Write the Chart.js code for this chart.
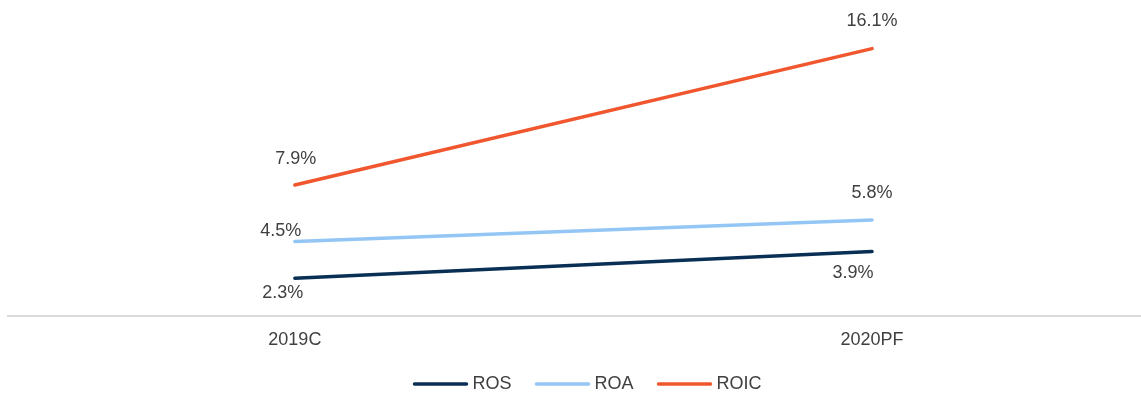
<!DOCTYPE html>
<html>
<head>
<meta charset="utf-8">
<script src="https://cdn.jsdelivr.net/npm/chart.js@4.4.1/dist/chart.umd.min.js"></script>
<style>
  html, body { margin: 0; padding: 0; background: #fff; }
  #wrap { width: 1141px; height: 394px; }
</style>
</head>
<body>
<div id="wrap"><canvas id="returns"></canvas></div>
<script>
// periods and return ratios (%)
const periods = ["2019C", "2020PF"];
const ros = [2.3, 3.9];
const roa = [4.5, 5.8];
const roic = [7.9, 16.1];

// label offsets per point [dx, dy] relative to the point
const labelShift = {
  ROS: [[-12, 15], [-19, 22]],
  ROA: [[-14, -11], [0, -27]],
  ROIC: [[1, -26], [0, -28]]
};

const textColor = "#404040";
const fontFamily = "'Liberation Sans', Arial, sans-serif";
const fontSize = 18;

function toPoints(values) {
  return values.map((v, i) => ({ x: i, y: v }));
}

// draws the % value next to every point
const valueLabels = {
  id: "valueLabels",
  afterDatasetsDraw(chart) {
    const ctx = chart.ctx;
    ctx.save();
    ctx.font = fontSize + "px " + fontFamily;
    ctx.fillStyle = textColor;
    ctx.textAlign = "center";
    ctx.textBaseline = "middle";
    chart.data.datasets.forEach((ds, di) => {
      const meta = chart.getDatasetMeta(di);
      meta.data.forEach((pt, i) => {
        const shift = labelShift[ds.label][i];
        ctx.fillText(ds.data[i].y.toFixed(1) + "%", pt.x + shift[0], pt.y + shift[1]);
      });
    });
    ctx.restore();
  }
};

// legend row under the axis: short line swatch + series name
const lineLegend = {
  id: "lineLegend",
  afterDraw(chart) {
    const ctx = chart.ctx;
    const swatch = 54, gapText = 5, gapItem = 24, y = 384;
    ctx.save();
    ctx.font = fontSize + "px " + fontFamily;
    ctx.textBaseline = "middle";
    const items = chart.data.datasets.map((ds) => ({
      text: ds.label,
      color: ds.borderColor,
      w: swatch + gapText + ctx.measureText(ds.label).width
    }));
    const total = items.reduce((s, it) => s + it.w, 0) + gapItem * (items.length - 1);
    let x = (chart.width - total) / 2 + 17;
    items.forEach((it) => {
      ctx.strokeStyle = it.color;
      ctx.lineWidth = 3.5;
      ctx.lineCap = "round";
      ctx.beginPath();
      ctx.moveTo(x + 1, y);
      ctx.lineTo(x + swatch - 1, y);
      ctx.stroke();
      ctx.fillStyle = textColor;
      ctx.fillText(it.text, x + swatch + gapText, y);
      x += it.w + gapItem;
    });
    ctx.restore();
  }
};

const lineStyle = {
  borderWidth: 3.5,
  pointRadius: 0,
  pointHoverRadius: 0,
  borderCapStyle: "round",
  tension: 0,
  fill: false
};

new Chart("returns", {
  type: "line",
  data: {
    datasets: [
      Object.assign({ label: "ROS", data: toPoints(ros), borderColor: "#0a2f55", backgroundColor: "#0a2f55" }, lineStyle),
      Object.assign({ label: "ROA", data: toPoints(roa), borderColor: "#93c6f4", backgroundColor: "#93c6f4" }, lineStyle),
      Object.assign({ label: "ROIC", data: toPoints(roic), borderColor: "#f0572e", backgroundColor: "#f0572e" }, lineStyle)
    ]
  },
  options: {
    responsive: true,
    maintainAspectRatio: false,
    animation: false,
    layout: { padding: { left: 8, right: 0, top: 17, bottom: 30 } },
    plugins: {
      tooltip: { enabled: false },
      legend: { display: false }
    },
    scales: {
      x: {
        type: "linear",
        min: -0.497,
        max: 1.466,
        afterBuildTicks(axis) {
          axis.ticks = periods.map((p, i) => ({ value: i }));
        },
        ticks: {
          color: textColor,
          font: { family: fontFamily, size: fontSize },
          padding: 13,
          callback: (v) => periods[v]
        },
        grid: { display: false, drawTicks: false },
        border: { display: true, color: "#d9d9d9", width: 2 }
      },
      y: {
        display: false,
        min: 0,
        max: 18
      }
    }
  },
  plugins: [valueLabels, lineLegend]
});
</script>
</body>
</html>
